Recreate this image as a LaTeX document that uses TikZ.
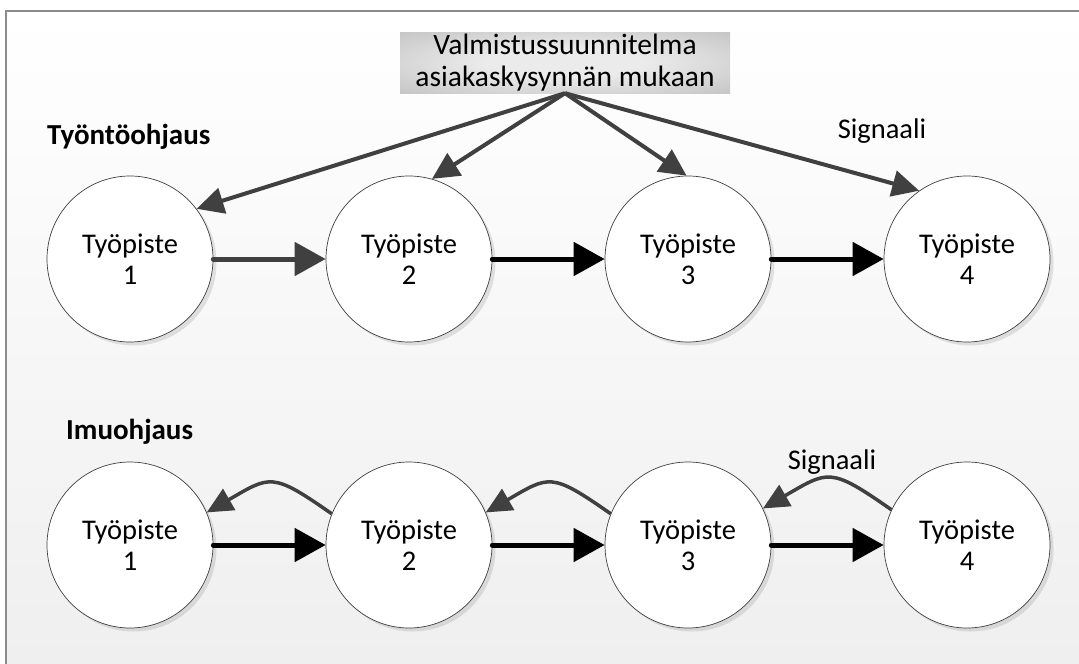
\documentclass[tikz,border=0pt]{standalone}
\usepackage{fontspec}
\setmainfont{Carlito}
\usetikzlibrary{arrows.meta,shadows}
\definecolor{arrowgray}{HTML}{404040}
\definecolor{framegray}{HTML}{8C8C8C}
\definecolor{bggray}{HTML}{EFEFEF}
\definecolor{boxlight}{HTML}{EBEBEB}
\definecolor{boxdark}{HTML}{A6A6A6}
% soft glow for the plan box: light centre fading to grey at the edges
\pgfdeclareradialshading{boxglow}{\pgfpoint{0bp}{0bp}}{%
  color(0bp)=(boxlight); color(12bp)=(boxlight); color(55bp)=(boxdark); color(72bp)=(boxdark)}
\begin{document}
\begin{tikzpicture}[x=1pt,y=-1pt,
  station/.style={circle, draw=arrowgray, line width=0.7pt, fill=white,
    minimum size=166pt, inner sep=0pt, align=center,
    font=\fontsize{28.5}{31}\selectfont,
    drop shadow={shadow xshift=3.5pt, shadow yshift=-3.5pt, fill=black, opacity=0.10}},
  planbox/.style={shading=boxglow,
    minimum width=330pt, minimum height=61pt, inner sep=0pt, align=center,
    font=\fontsize{29.5}{32}\selectfont},
  heading/.style={font=\fontsize{29}{32}\selectfont\bfseries, anchor=west, inner sep=0pt},
  signaltext/.style={font=\fontsize{28.5}{30}\selectfont, inner sep=0pt},
  flow/.style={line width=5pt, line cap=round, -{Triangle[length=31pt,width=33pt]}},
  order/.style={arrowgray, line width=4pt, -{Triangle[length=27pt,width=26pt]}},
  feedback/.style={arrowgray, line width=3.5pt, -{Triangle[length=26pt,width=24pt]}}
]
\useasboundingbox (0,0) rectangle (1079,664);

% page background and frame
\fill[top color=white, bottom color=bggray] (6,11) rectangle (1079,664);
\draw[framegray, line width=1.8pt] (6,664) -- (6,11) -- (1079,11);

% production plan box
\node[planbox] (plan) at (565,62.5) {Valmistussuunnitelma\\asiakaskysynnän mukaan};

% section headings
\node[heading] (push) at (47,137) {Työntöohjaus};
\node[heading] (pull) at (66,432) {Imuohjaus};

% work stations
\foreach \i/\x in {1/130,2/409,3/688,4/967}{
  \node[station] (p\i) at (\x,259) {Työpiste\\\i};
  \node[station] (q\i) at (\x,545) {Työpiste\\\i};
}

% push control: plan sends orders to every station
\draw[order] (plan.south) -- (p1.37);
\draw[order] (plan.south) -- (p2.74);
\draw[order] (plan.south) -- (p3.91);
\draw[order] (plan.south) -- (p4.125);
\node[signaltext] (sigpush) at (882,131) {Signaali};

% material flow, push
\draw[flow, arrowgray] (p1.east) -- (p2.west);
\draw[flow] (p2.east) -- (p3.west);
\draw[flow] (p3.east) -- (p4.west);

% material flow, pull
\draw[flow] (q1.east) -- (q2.west);
\draw[flow] (q2.east) -- (q3.west);
\draw[flow] (q3.east) -- (q4.west);

% pull signals back upstream
\draw[feedback] (q2.158) to[out=145, in=30, looseness=1.5] (q1.23);
\draw[feedback] (q3.158) to[out=145, in=30, looseness=1.5] (q2.23);
\draw[feedback] (q4.155) to[out=145, in=30, looseness=1.5] (q3.26);
\node[signaltext] (sigpull) at (832,462) {Signaali};
\end{tikzpicture}
\end{document}
